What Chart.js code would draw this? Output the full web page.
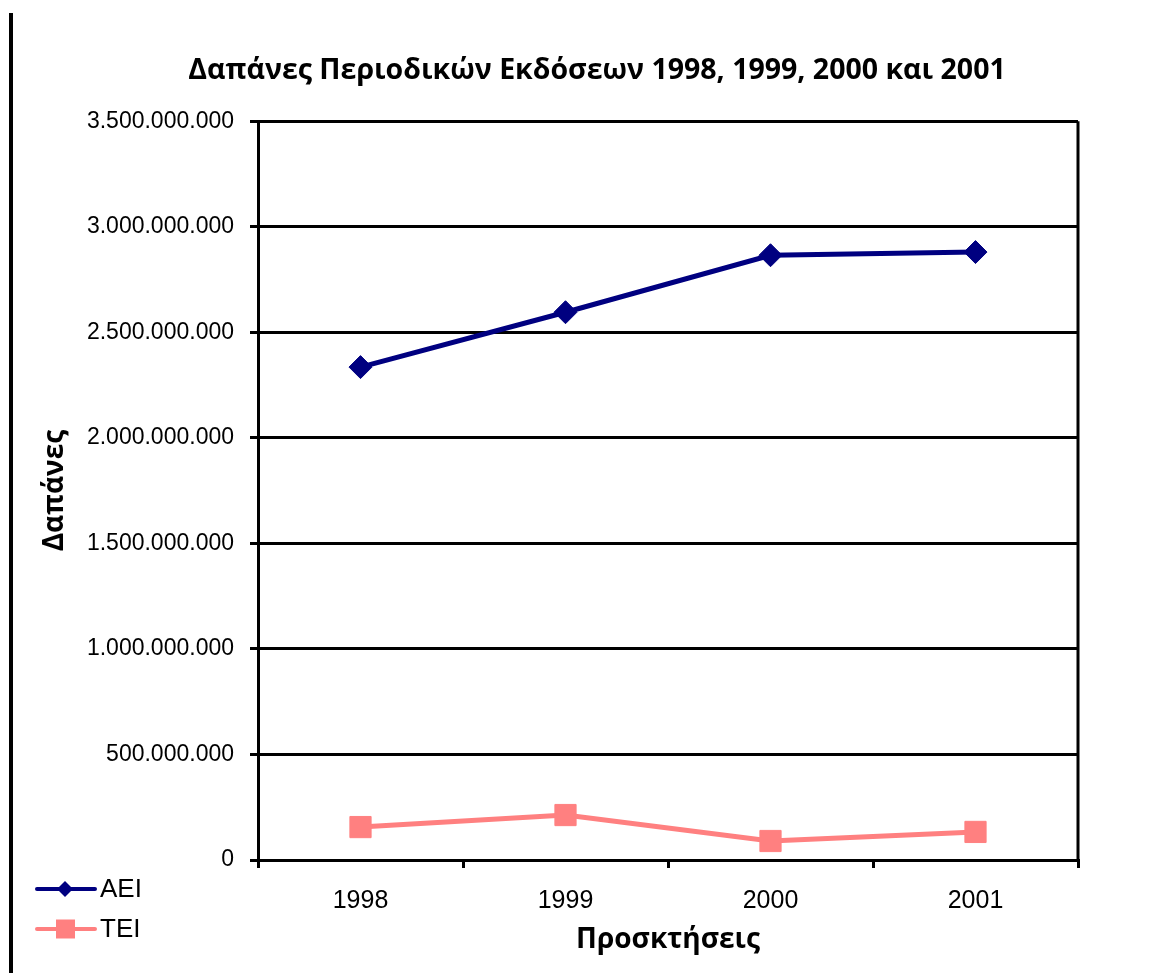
<!DOCTYPE html>
<html>
<head>
<meta charset="utf-8">
<script src="https://cdn.jsdelivr.net/npm/chart.js@4"></script>
<style>
  html, body { margin:0; padding:0; background:#fff; }
  #wrap { width:1174px; height:973px; }
</style>
</head>
<body>
<div id="wrap"><canvas id="chart" width="1174" height="973"></canvas></div>
<script>
// δεδομένα (εκτίμηση από το γράφημα)
const years = ['1998', '1999', '2000', '2001'];
const aeiValues = [2335000000, 2595000000, 2865000000, 2880000000];
const teiValues = [156000000, 213000000, 90000000, 133000000];
const seriesNames = ['AEI', 'TEI'];
const titleText = 'Δαπάνες Περιοδικών Εκδόσεων 1998, 1999, 2000 και 2001';
const xTitle = 'Προσκτήσεις';
const yTitle = 'Δαπάνες';

const NUM_FONT = "'Liberation Sans', Arial, sans-serif";
const GR_FONT = "'Open Sans', 'Noto Sans', sans-serif";

// 1.234.567 μορφή
const fmt = v => String(Math.round(v)).replace(/\B(?=(\d{3})+(?!\d))/g, '.');

// δεξί πλαίσιο + κάθετη γραμμή αριστερά + υπόμνημα
const decor = {
    id: 'decor',
    afterLayout: (chart) => {
        // ο τίτλος στο πρωτότυπο είναι κεντραρισμένος γύρω στο x≈597
        if (chart.titleBlock) chart.titleBlock.left = 116;
    },
    afterDraw: (chart) => {
        const ctx = chart.ctx, a = chart.chartArea;
        ctx.save();
        ctx.strokeStyle = '#000';
        ctx.lineWidth = 3;
        ctx.beginPath();
        ctx.moveTo(a.right, a.top); ctx.lineTo(a.right, a.bottom);
        ctx.stroke();

        ctx.fillStyle = '#000';
        ctx.fillRect(9, 13, 4, 960);

        // υπόμνημα κάτω αριστερά
        const rows = [889, 929];
        chart.data.datasets.forEach((ds, i) => {
            const y = rows[i];
            ctx.strokeStyle = ds.borderColor;
            ctx.lineWidth = 4;
            ctx.lineCap = 'round';
            ctx.beginPath(); ctx.moveTo(37, y); ctx.lineTo(95, y); ctx.stroke();
            ctx.fillStyle = ds.borderColor;
            ctx.beginPath();
            if (ds.pointStyle === 'rectRot') {
                const r = 8;
                ctx.moveTo(65, y - r); ctx.lineTo(65 + r, y); ctx.lineTo(65, y + r); ctx.lineTo(65 - r, y);
            } else {
                ctx.rect(56, y - 9.5, 19, 19);
            }
            ctx.closePath(); ctx.fill();
            ctx.fillStyle = '#000';
            ctx.font = "26px " + NUM_FONT;
            ctx.textBaseline = 'middle';
            ctx.textAlign = 'left';
            ctx.fillText(ds.label, 100, y + 1);
        });
        ctx.restore();
    }
};

new Chart(document.getElementById('chart'), {
    type: 'line',
    data: {
        labels: years,
        datasets: [
            { label: seriesNames[0], data: aeiValues, borderColor: '#000080', backgroundColor: '#000080',
              borderWidth: 5, pointStyle: 'rectRot', pointRadius: 11.5, pointBorderWidth: 1, tension: 0 },
            { label: seriesNames[1], data: teiValues, borderColor: '#FF8080', backgroundColor: '#FF8080',
              borderWidth: 5, pointStyle: 'rect', pointRadius: 15, pointBorderWidth: 1, tension: 0 }
        ]
    },
    options: {
        responsive: false,
        devicePixelRatio: 1,
        animation: false,
        layout: { padding: { left: 20, right: 96, top: 0, bottom: 0 } },
        plugins: {
            legend: { display: false },
            tooltip: { enabled: false },
            title: {
                display: true, text: titleText, color: '#000',
                font: { family: GR_FONT, size: 28.5, weight: 'bold', lineHeight: 1.2 },
                padding: { top: 54, bottom: 33 }
            }
        },
        scales: {
            x: {
                offset: true,
                afterFit: s => { s.height = 113; },
                grid: { drawOnChartArea: false, drawTicks: true, tickLength: 8, color: '#000', lineWidth: 3, offset: true },
                border: { color: '#000', width: 3 },
                ticks: { color: '#000', padding: 18, font: { family: NUM_FONT, size: 25 } },
                title: { display: true, text: xTitle, color: '#000', padding: { top: 0, bottom: 16 },
                         font: { family: GR_FONT, size: 28, weight: 'bold', lineHeight: 1.2 } }
            },
            y: {
                min: 0, max: 3500000000,
                afterFit: s => { s.width = 238; },
                grid: { color: '#000', lineWidth: 3, tickLength: 8 },
                border: { color: '#000', width: 3 },
                ticks: { stepSize: 500000000, color: '#000', padding: 16,
                         font: { family: NUM_FONT, size: 23 }, callback: v => fmt(v) },
                title: { display: true, text: yTitle, color: '#000', padding: { top: 18, bottom: 0 },
                         font: { family: GR_FONT, size: 28, weight: 'bold', lineHeight: 1.2 } }
            }
        }
    },
    plugins: [decor]
});
</script>
</body>
</html>
